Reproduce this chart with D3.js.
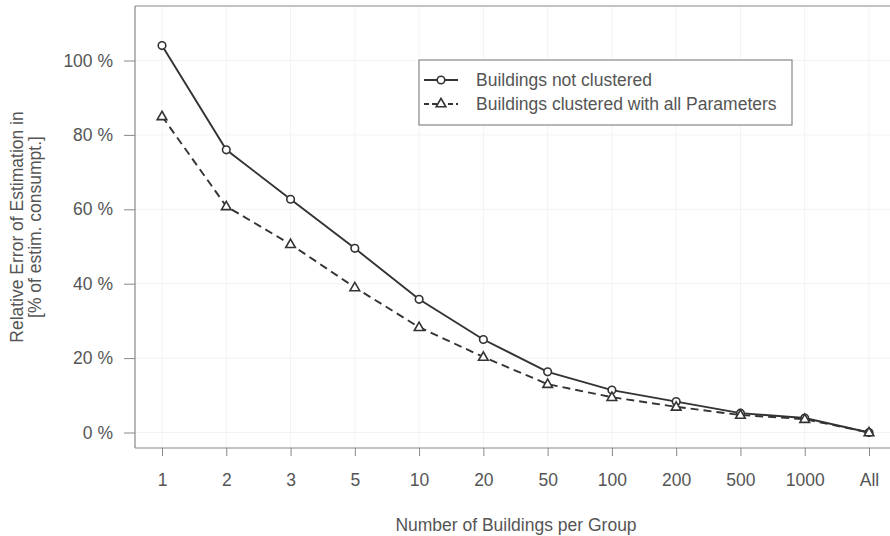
<!DOCTYPE html>
<html><head><meta charset="utf-8">
<script src="https://cdn.jsdelivr.net/npm/d3@7"></script>
<style>body{margin:0;background:#fff}svg{display:block}text{font-family:"Liberation Sans",Arial,sans-serif;fill:#555}</style>
</head><body><svg id="c" width="890" height="536"></svg>
<script>
const categories = ["1","2","3","5","10","20","50","100","200","500","1000","All"];
const notClustered = [104, 76, 62.7, 49.5, 35.8, 25, 16.3, 11.4, 8.3, 5.2, 3.9, 0];
const clustered = [85, 60.8, 50.6, 39, 28.3, 20.3, 13, 9.5, 6.9, 4.7, 3.6, 0];
const yTicks = [0, 20, 40, 60, 80, 100];
const seriesNames = ["Buildings not clustered", "Buildings clustered with all Parameters"];

const svg = d3.select("#c");
const L = 135, T = 6, B = 448, R = 905;
const FS = 17.5;
const x = d3.scalePoint().domain(categories).range([162, 869]);
const y = d3.scaleLinear().domain([0, 100]).range([432.5, 60.5]);

// faint grid
const g = svg.append("g");
g.selectAll(".gx").data(categories).enter().append("line")
  .attr("x1", d => x(d)).attr("x2", d => x(d)).attr("y1", T).attr("y2", B)
  .attr("stroke", "#f3f3f3").attr("stroke-width", 1);
g.selectAll(".gy").data(yTicks).enter().append("line")
  .attr("x1", L).attr("x2", R).attr("y1", d => y(d)).attr("y2", d => y(d))
  .attr("stroke", "#f3f3f3").attr("stroke-width", 1);

// frame
svg.append("line").attr("x1", L).attr("x2", R).attr("y1", T).attr("y2", T).attr("stroke", "#888").attr("stroke-width", 1.2);
svg.append("line").attr("x1", L).attr("x2", L).attr("y1", T).attr("y2", B).attr("stroke", "#888").attr("stroke-width", 1.2);
svg.append("line").attr("x1", L).attr("x2", R).attr("y1", B).attr("y2", B).attr("stroke", "#888").attr("stroke-width", 1.2);

// axes
const yAxis = svg.append("g").attr("transform", `translate(${L},0)`)
  .call(d3.axisLeft(y).tickValues(yTicks).tickSize(11).tickPadding(11).tickFormat(d => d + " %"));
const xAxis = svg.append("g").attr("transform", `translate(0,${B})`)
  .call(d3.axisBottom(x).tickSize(8).tickPadding(18));
[yAxis, xAxis].forEach(a => {
  a.select(".domain").remove();
  a.selectAll(".tick line").attr("stroke", "#888");
  a.selectAll(".tick text").attr("font-size", FS).attr("fill", "#555")
    .attr("font-family", "Liberation Sans, Arial, sans-serif");
});

// lines
const line = d3.line().x((d, i) => x(categories[i])).y(d => y(d));
svg.append("path").datum(notClustered).attr("d", line).attr("fill", "none")
  .attr("stroke", "#333").attr("stroke-width", 1.9);
svg.append("path").datum(clustered).attr("d", line).attr("fill", "none")
  .attr("stroke", "#333").attr("stroke-width", 1.9).attr("stroke-dasharray", "8,5");

const tri = d3.symbol().type(d3.symbolTriangle).size(40);
svg.selectAll(".c").data(notClustered).enter().append("circle")
  .attr("cx", (d, i) => x(categories[i])).attr("cy", d => y(d)).attr("r", 3.8)
  .attr("fill", "#fff").attr("stroke", "#333").attr("stroke-width", 1.6);
svg.selectAll(".t").data(clustered).enter().append("path")
  .attr("d", tri).attr("transform", (d, i) => `translate(${x(categories[i])},${y(d) + 0.5})`)
  .attr("fill", "#fff").attr("stroke", "#333").attr("stroke-width", 1.6);

// legend
const lg = svg.append("g");
lg.append("rect").attr("x", 419).attr("y", 60).attr("width", 373).attr("height", 65)
  .attr("fill", "#fff").attr("stroke", "#888").attr("stroke-width", 1.2);
seriesNames.forEach((name, i) => {
  const yy = 80 + i * 24;
  lg.append("line").attr("x1", 424).attr("x2", 458).attr("y1", yy).attr("y2", yy)
    .attr("stroke", "#333").attr("stroke-width", 1.9).attr("stroke-dasharray", i ? "5,3" : null);
  if (i === 0) lg.append("circle").attr("cx", 441).attr("cy", yy).attr("r", 3.8)
    .attr("fill", "#fff").attr("stroke", "#333").attr("stroke-width", 1.6);
  else lg.append("path").attr("d", tri).attr("transform", `translate(441,${yy})`)
    .attr("fill", "#fff").attr("stroke", "#333").attr("stroke-width", 1.6);
  lg.append("text").attr("x", 476).attr("y", yy + 6).attr("font-size", FS).text(name);
});

// axis titles
svg.append("text").attr("x", 516).attr("y", 531).attr("text-anchor", "middle")
  .attr("font-size", FS).text("Number of Buildings per Group");
const yt = svg.append("text").attr("transform", "translate(0,227) rotate(-90)")
  .attr("text-anchor", "middle").attr("font-size", FS);
yt.append("tspan").attr("x", 0).attr("y", 23).text("Relative Error of Estimation in");
yt.append("tspan").attr("x", 0).attr("y", 41).text("[% of estim. consumpt.]");
</script></body></html>
